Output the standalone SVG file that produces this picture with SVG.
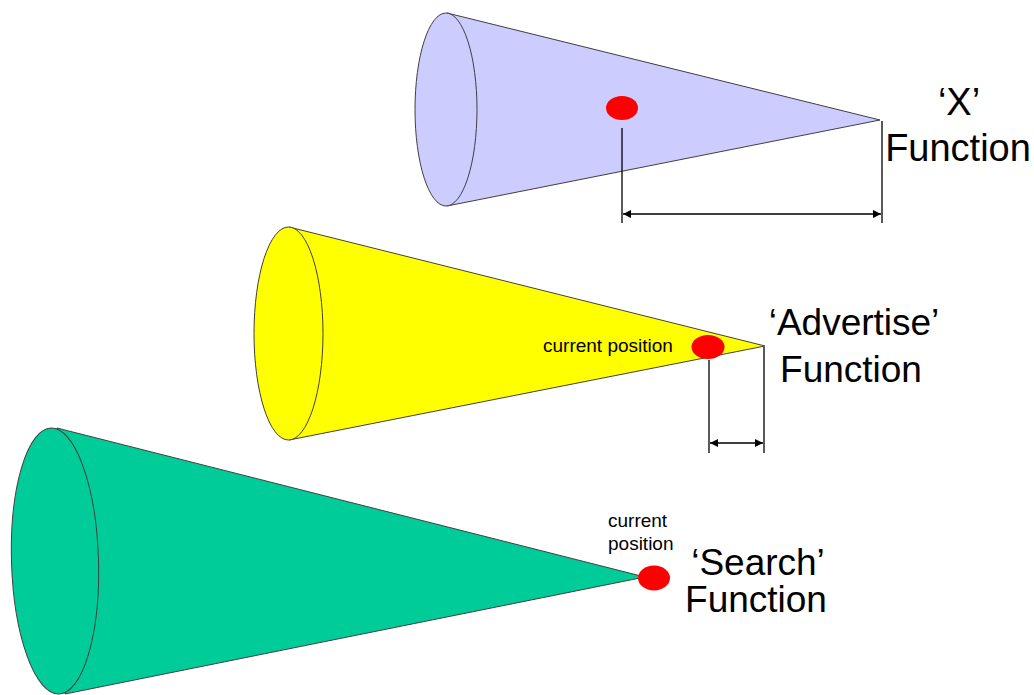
<svg xmlns="http://www.w3.org/2000/svg" width="1034" height="695" viewBox="0 0 1034 695">
<style>
.edge{stroke:#404040;stroke-width:1;}
.dot{fill:#FF0000;}
.big{font-family:"Liberation Sans",Arial,sans-serif;fill:#000;text-anchor:middle;}
.small{font-family:"Liberation Sans",Arial,sans-serif;font-size:19px;fill:#000;}
.dim{stroke:#000;stroke-width:1.3;fill:none;}
</style>
<defs>
<marker id="ah" viewBox="0 0 10 10" refX="10" refY="5" markerWidth="8" markerHeight="8" markerUnits="userSpaceOnUse" orient="auto-start-reverse">
<path d="M0,0 L10,5 L0,10 z" fill="#000"/>
</marker>
</defs>
<rect width="1034" height="695" fill="#fff"/>

<g id="cone-x">
<polygon points="447,13 880,120 447,206" fill="#CCCCFF" class="edge"/>
<ellipse cx="446" cy="109.5" rx="31" ry="96.5" fill="#CCCCFF" class="edge"/>
<ellipse class="dot" cx="622" cy="108" rx="16" ry="12"/>
</g>

<g id="cone-advertise">
<polygon points="289,227 765,346 289,440" fill="#FFFF00" class="edge"/>
<ellipse cx="288.5" cy="333.5" rx="34.5" ry="106.5" fill="#FFFF00" class="edge"/>
<ellipse class="dot" cx="708" cy="347" rx="16.5" ry="12"/>
<text class="small" x="543" y="352">current position</text>
</g>

<g id="cone-search">
<polygon points="57,428 645,577 65,694" fill="#00CC99" class="edge"/>
<ellipse cx="55" cy="561" rx="43.5" ry="133" fill="#00CC99" class="edge" transform="rotate(-1.7 55 561)"/>
<ellipse class="dot" cx="654" cy="578" rx="16" ry="12.5"/>
<text class="small" x="608" y="527">current</text>
<text class="small" x="608" y="550">position</text>
</g>

<g id="label-x">
<text class="big" font-size="38" x="959" y="115">‘X’</text>
<text class="big" font-size="38" x="958" y="161">Function</text>
</g>

<g id="label-advertise">
<text class="big" font-size="37" x="854" y="335">‘Advertise’</text>
<text class="big" font-size="37" x="851" y="382">Function</text>
</g>

<g id="label-search">
<text class="big" font-size="37" x="758" y="575">‘Search’</text>
<text class="big" font-size="37" x="756" y="612">Function</text>
</g>

<g id="connectors">
<line class="dim" x1="622" y1="128" x2="622" y2="223"/>
<line class="dim" x1="882" y1="121" x2="882" y2="223"/>
<line class="dim" x1="623" y1="214" x2="881" y2="214" marker-start="url(#ah)" marker-end="url(#ah)"/>
<line class="dim" x1="709" y1="360" x2="709" y2="453"/>
<line class="dim" x1="764" y1="347" x2="764" y2="453"/>
<line class="dim" x1="710" y1="443" x2="763" y2="443" marker-start="url(#ah)" marker-end="url(#ah)"/>
</g>
</svg>
